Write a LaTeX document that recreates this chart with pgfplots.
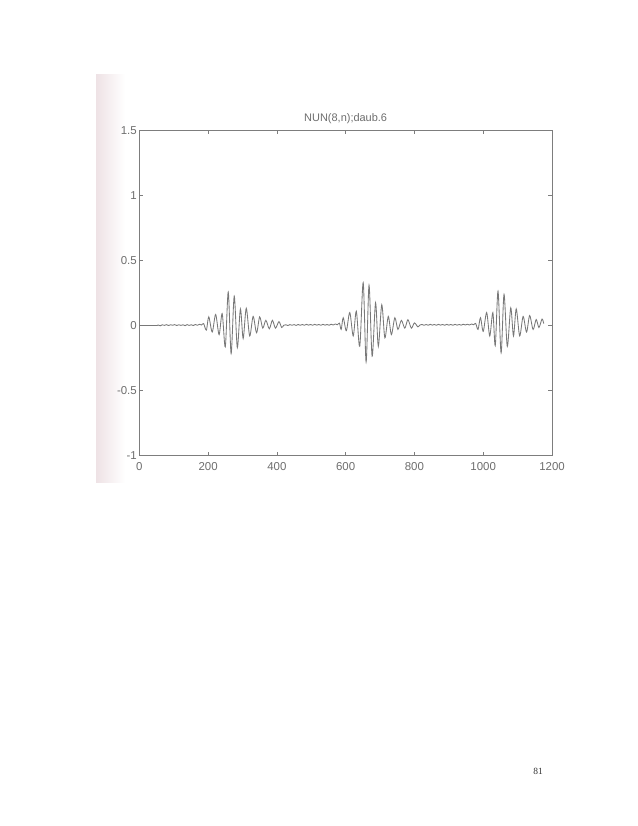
\documentclass[border=0pt]{standalone}
\usepackage{pgfplots}
\pgfplotsset{compat=1.18}
\usepackage{fontspec}
\setmainfont{Liberation Sans}
\newfontfamily\pageserif{Liberation Serif}
\definecolor{linegray}{RGB}{120,120,120}
\definecolor{axgray}{RGB}{125,125,125}
\definecolor{txtgray}{RGB}{110,110,110}
\definecolor{scanpink}{RGB}{238,226,229}
\begin{document}
\begin{tikzpicture}
\useasboundingbox (0,0) rectangle (638bp,826bp);
\fill[white] (0,0) rectangle (638bp,826bp);
\shade[left color=scanpink, right color=white] (96bp,343bp) rectangle (125bp,751bp);
\begin{axis}[
  at={(139.3bp,370.3bp)}, anchor=south west,
  scale only axis, width=412.7bp, height=325.4bp,
  xmin=0, xmax=1200, ymin=-1, ymax=1.5,
  xtick={0,200,...,1200}, ytick={-1,-0.5,0,0.5,1,1.5},
  tick align=inside, major tick length=4bp,
  axis line style={axgray, line width=0.6bp},
  every tick/.style={axgray, line width=0.5bp},
  tick label style={font=\fontsize{11.5}{13}\selectfont, text=txtgray},
  /pgf/number format/assume math mode=true,
  /pgf/number format/1000 sep={},
  title={NUN(8,n);daub.6},
  title style={font=\fontsize{11}{13}\selectfont, text=txtgray, yshift=-3bp},
  xticklabel style={yshift=-3bp},
  yticklabel style={xshift=1bp},
  clip=false,
]
\addplot[linegray, line width=0.85bp, smooth, tension=0.5] coordinates {
(0,0) (50,0) (55,0.004) (61,-0.002) (67,0.006) (73,0.001) (79,0.007) (85,0.0) (91,0.006) (97,0.002)
(103,0.007) (109,0.0) (115,0.006) (121,0.001) (127,0.006) (133,-0.001) (139,0.007) (145,0.001)
(151,0.006) (157,0.0) (163,0.008) (169,0.002) (175,0.01) (181,0.004) (187,0.015)
(195,-0.035) (202,0.067) (212,-0.05) (222,0.085) (232,-0.07) (241,0.092) (250,-0.164) (258.6,0.257)
(267,-0.215) (276,0.226) (285,-0.17) (294,0.128) (302,-0.10) (311,0.133) (321,-0.08) (331,0.07)
(341,-0.056) (350,0.067) (359,-0.02) (368,0.04) (378,-0.025) (387,0.04) (396,-0.02) (406,0.03)
(414,-0.015) (420,0.002) (426,0.006) (432,0.0) (438,0.007) (444,0.002) (450,0.007) (456,0.001)
(462,0.008) (468,0.002) (474,0.008) (480,0.002) (486,0.009) (492,0.003) (498,0.008) (504,0.002)
(510,0.009) (516,0.003) (522,0.008) (528,0.002) (534,0.009) (540,0.003) (546,0.008) (552,0.002)
(558,0.01) (564,0.004) (570,0.012) (576,0.006) (582,0.018)
(587,-0.03) (593,0.06) (602,-0.04) (612,0.1) (622,-0.08) (631,0.11) (641,-0.16) (651,0.33)
(659.5,-0.28) (668,0.31) (677,-0.236) (687,0.175) (695,-0.16) (705,0.16) (714,-0.095) (724,0.07)
(733,-0.07) (743,0.06) (752,-0.03) (762,0.04) (772,-0.02) (781,0.045) (791,-0.02) (800,0.02)
(810,-0.01) (816,0.004) (822,0.008) (828,0.002) (834,0.008) (840,0.002) (846,0.009) (852,0.003)
(858,0.008) (864,0.002) (870,0.009) (876,0.003) (882,0.008) (888,0.002) (894,0.009) (900,0.003)
(906,0.008) (912,0.002) (918,0.009) (924,0.003) (930,0.008) (936,0.003) (942,0.01) (948,0.004)
(954,0.01) (960,0.004) (966,0.012) (972,0.006) (978,0.016) (985,-0.03)
(992,0.06) (1000,-0.045) (1010,0.1) (1019,-0.08) (1028,0.1) (1035,-0.155) (1043,0.264)
(1052,-0.21) (1060.5,0.24) (1070,-0.16) (1080,0.136) (1088,-0.08) (1096,0.128) (1106,-0.08)
(1116,0.07) (1126,-0.05) (1135,0.077) (1145,-0.03) (1154,0.046) (1162,-0.015) (1171,0.05) (1176,0.015)
};
\end{axis}
\node[font=\pageserif\fontsize{9.5}{11}\selectfont, text=black!80] at (538bp,55bp) {81};
\end{tikzpicture}
\end{document}
